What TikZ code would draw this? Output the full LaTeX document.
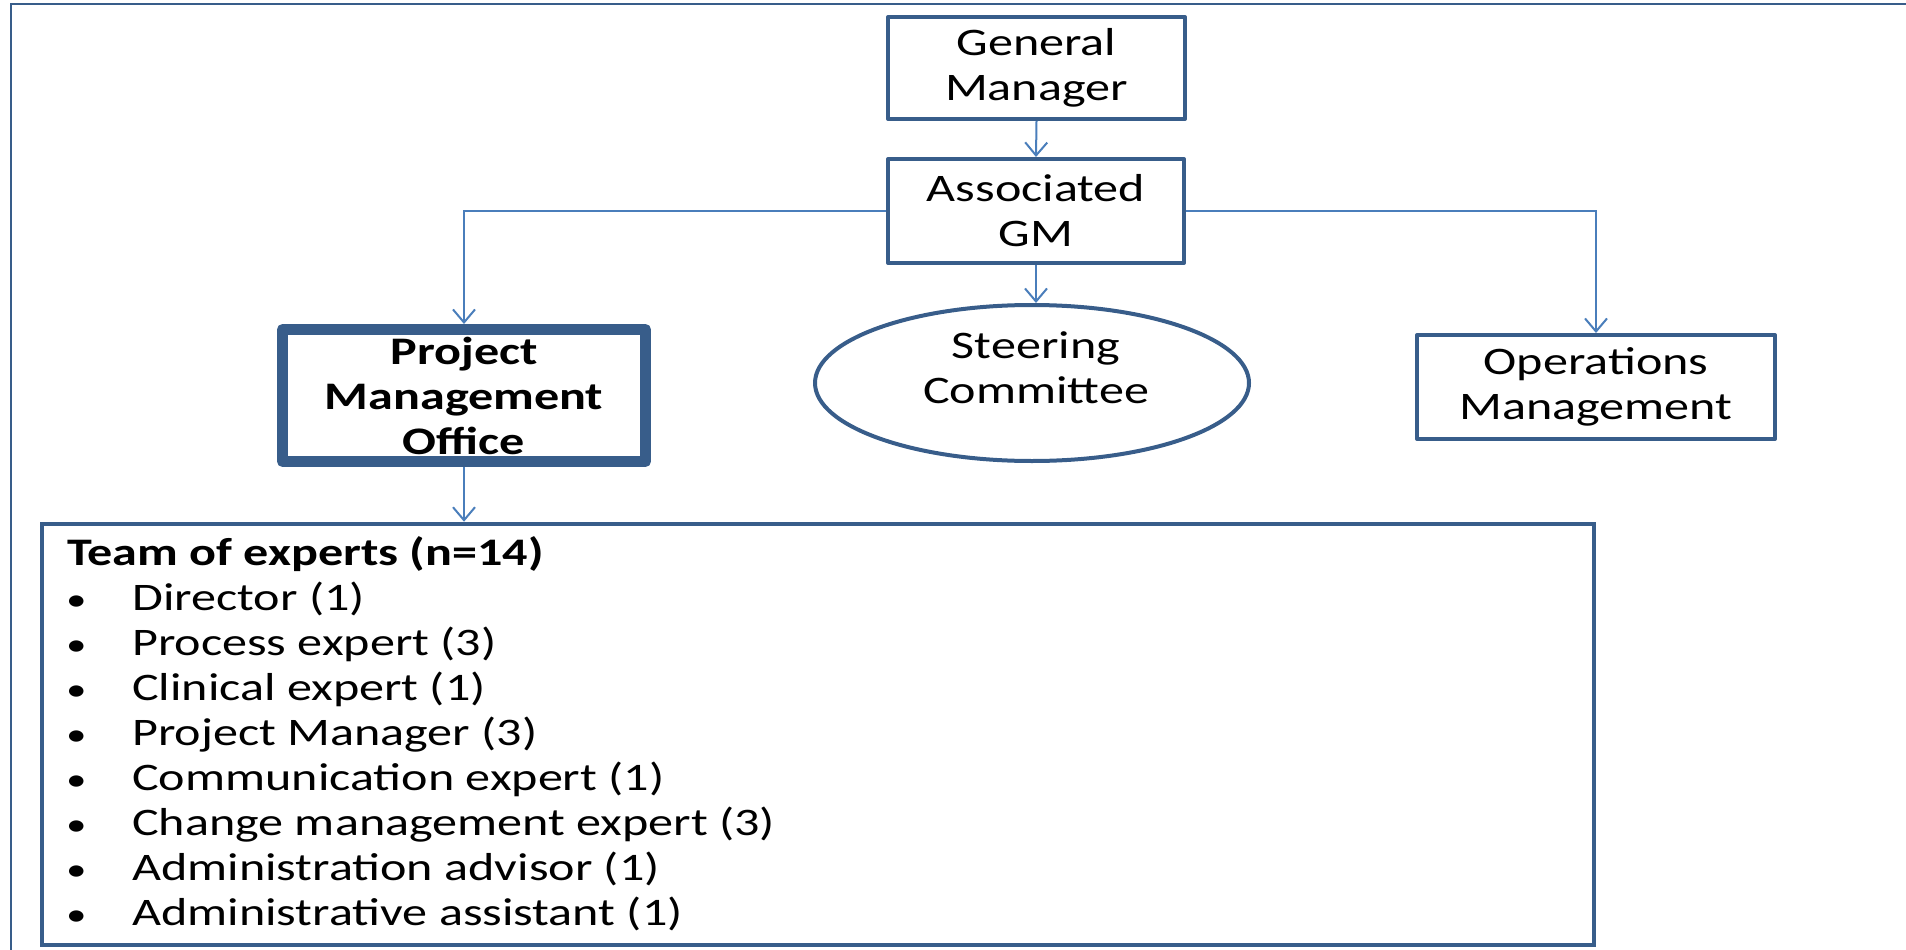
\documentclass[tikz,border=0pt]{standalone}
\usepackage{fontspec}
\setmainfont{Carlito}
\newfontfamily\boxfont{Carlito}[FakeStretch=1.285]
\usetikzlibrary{arrows.meta,shapes.geometric}
\definecolor{edge}{HTML}{385D8A}
\definecolor{link}{HTML}{4A7EBB}
\newcommand{\boxtext}{\boxfont\fontsize{39}{45}\selectfont}
\newcommand{\bul}{\makebox[68pt][l]{\hspace{2pt}\fontsize{32}{45}\selectfont •}}
\tikzset{
  box/.style={draw=edge, line width=4pt, line join=round, align=center,
    inner sep=0pt, text=black, font=\boxtext},
  conn/.style={draw=link, line width=2pt,
    -{Straight Barb[length=13pt,width=22pt]}},
  listline/.style={inner sep=0pt, anchor=base west, text=black, font=\boxtext},
  frame/.style={draw=edge, line width=2.5pt}
}
\begin{document}
\begin{tikzpicture}[x=1pt,y=-1pt]
\useasboundingbox (0,0) rectangle (1906,950);
% page frame
\draw[frame] (11,952) -- (11,4) -- (1908,4);

% boxes
\node[box, minimum width=297pt, minimum height=102pt] (gm) at (1036.5,68) {General\\Manager};
\node[box, minimum width=296pt, minimum height=104pt] (agm) at (1036,211) {Associated\\GM};
\node[box, line width=11pt, minimum width=363pt, minimum height=132pt,
      font=\boxtext\bfseries] (pmo) at (464,395.5) {Project\\Management\\Office};
\node[draw=edge, line width=4pt, ellipse, inner sep=0pt,
      minimum width=434pt, minimum height=156pt] (sc) at (1032,383) {};
\node[align=center, inner sep=0pt, font=\boxtext] (sclabel) at (1036,368) {Steering\\Committee};
\node[box, minimum width=358pt, minimum height=104pt] (ops) at (1596,387) {Operations\\Management};
\node[draw=edge, line width=4.5pt, inner sep=0pt, minimum width=1552pt, minimum height=421pt] (team) at (818,734.5) {};

% team list
\node[listline, font=\boxtext\bfseries] (title) at (67,565) {Team of experts (n=14)};
\foreach \i/\txt in {1/Director (1), 2/Process expert (3), 3/Clinical expert (1),
    4/Project Manager (3), 5/Communication expert (1), 6/Change management expert (3),
    7/Administration advisor (1), 8/Administrative assistant (1)}
  \node[listline] (item\i) at (64,{565+45*\i}) {\bul\txt};

% connectors
\draw[conn] (gm.south) -- (agm.north);
\draw[conn] (agm.west) -| (pmo.north);
\draw[conn] (agm.east) -| (ops.north);
\draw[conn] (agm.south) -- (agm.south |- sc.north);
\draw[conn] (pmo.south) -- (pmo.south |- team.north);
\end{tikzpicture}
\end{document}
